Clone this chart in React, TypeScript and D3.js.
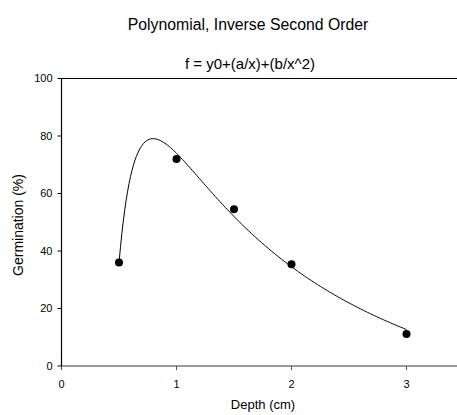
import React, { useEffect, useRef } from "react";
import * as d3 from "d3";

const depth = [0.5, 1, 1.5, 2, 3];
const germination = [36, 72, 54.5, 35.4, 11.1];
const xTicks = [0, 1, 2, 3];
const yTicks = [0, 20, 40, 60, 80, 100];

// least squares fit of f = y0 + a/x + b/x^2 on the observed points
const fitInverseSecondOrder = (xs: number[], ys: number[]) => {
  const rows = xs.map((x) => [1, 1 / x, 1 / (x * x)]);
  const A = [0, 1, 2].map((i) => [0, 1, 2].map((j) => d3.sum(rows, (r) => r[i] * r[j])));
  const B = [0, 1, 2].map((i) => d3.sum(rows, (r, k) => r[i] * ys[k]));
  // gaussian elimination
  for (let i = 0; i < 3; i++) {
    for (let k = i + 1; k < 3; k++) {
      const f = A[k][i] / A[i][i];
      for (let j = i; j < 3; j++) A[k][j] -= f * A[i][j];
      B[k] -= f * B[i];
    }
  }
  const c = [0, 0, 0];
  for (let i = 2; i >= 0; i--) {
    let s = B[i];
    for (let j = i + 1; j < 3; j++) s -= A[i][j] * c[j];
    c[i] = s / A[i][i];
  }
  return c;
};

const App = () => {
  const svgRef = useRef<SVGSVGElement>(null);

  useEffect(() => {
    const W = 457;
    const H = 415;
    const svg = d3.select(svgRef.current);
    svg.selectAll("*").remove();
    svg.attr("width", W).attr("height", H);

    const font = "Liberation Sans, Arial, sans-serif";

    const x = d3.scaleLinear().domain([0, 3.5]).range([61.5, 464]);
    const y = d3.scaleLinear().domain([0, 100]).range([366, 78.5]);

    // titles
    svg
      .append("text")
      .attr("x", 248)
      .attr("y", 29.5)
      .attr("text-anchor", "middle")
      .style("font-family", font)
      .style("font-size", "15.8px")
      .text("Polynomial, Inverse Second Order");

    svg
      .append("text")
      .attr("x", 250)
      .attr("y", 68.5)
      .attr("text-anchor", "middle")
      .style("font-family", font)
      .style("font-size", "15px")
      .text("f = y0+(a/x)+(b/x^2)");

    // top frame line
    svg
      .append("line")
      .attr("x1", x(0))
      .attr("x2", W)
      .attr("y1", y(100))
      .attr("y2", y(100))
      .attr("stroke", "#000")
      .attr("stroke-width", 1.2);

    // x axis
    const gx = svg.append("g").attr("transform", `translate(0,${y(0)})`);
    gx.append("line")
      .attr("x1", x(0))
      .attr("x2", W)
      .attr("stroke", "#777")
      .attr("stroke-width", 1.5);
    gx.selectAll(".tick")
      .data(xTicks)
      .enter()
      .append("line")
      .attr("x1", (d) => x(d))
      .attr("x2", (d) => x(d))
      .attr("y1", 0)
      .attr("y2", 4)
      .attr("stroke", "#555");
    gx.selectAll(".lbl")
      .data(xTicks)
      .enter()
      .append("text")
      .attr("x", (d) => x(d))
      .attr("y", 22)
      .attr("text-anchor", "middle")
      .style("font-family", font)
      .style("font-size", "11px")
      .text((d) => d);

    // y axis
    const gy = svg.append("g").attr("transform", `translate(${x(0)},0)`);
    gy.append("line")
      .attr("y1", y(0))
      .attr("y2", y(100))
      .attr("stroke", "#000")
      .attr("stroke-width", 1.2);
    gy.selectAll(".tick")
      .data(yTicks)
      .enter()
      .append("line")
      .attr("x1", -4)
      .attr("x2", 0)
      .attr("y1", (d) => y(d))
      .attr("y2", (d) => y(d))
      .attr("stroke", "#000");
    gy.selectAll(".lbl")
      .data(yTicks)
      .enter()
      .append("text")
      .attr("x", -9)
      .attr("y", (d) => y(d))
      .attr("dy", "0.35em")
      .attr("text-anchor", "end")
      .style("font-family", font)
      .style("font-size", "11px")
      .text((d) => d);

    // axis titles
    svg
      .append("text")
      .attr("x", 263)
      .attr("y", 409)
      .attr("text-anchor", "middle")
      .style("font-family", font)
      .style("font-size", "13px")
      .text("Depth (cm)");

    svg
      .append("text")
      .attr("transform", `translate(23,225) rotate(-90)`)
      .attr("text-anchor", "middle")
      .style("font-family", font)
      .style("font-size", "14px")
      .text("Germination (%)");

    // fitted curve
    const [y0, a, b] = fitInverseSecondOrder(depth, germination);
    const xs = d3.range(0, 201).map((i) => 0.5 + (i / 200) * 2.5);
    const line = d3
      .line<number>()
      .x((d) => x(d))
      .y((d) => y(y0 + a / d + b / (d * d)))
      .curve(d3.curveLinear);
    svg
      .append("path")
      .datum(xs)
      .attr("d", line)
      .attr("fill", "none")
      .attr("stroke", "#000")
      .attr("stroke-width", 1);

    // points
    svg
      .selectAll("circle")
      .data(depth)
      .enter()
      .append("circle")
      .attr("cx", (d) => x(d))
      .attr("cy", (d, i) => y(germination[i]))
      .attr("r", 4)
      .attr("fill", "#000");
  }, []);

  return (
    <svg
      ref={svgRef}
      style={{ position: "absolute", left: 0, top: 0, background: "#fff" }}
    ></svg>
  );
};

export default App;
